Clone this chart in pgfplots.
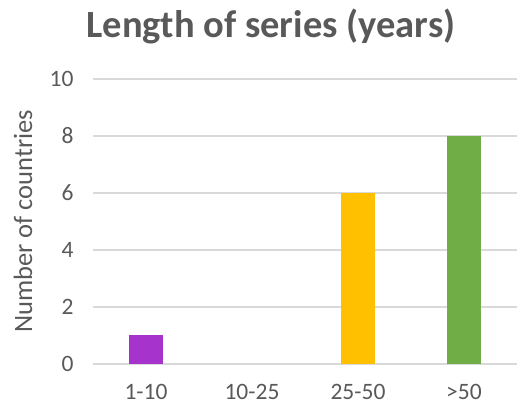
\documentclass[border=0pt]{standalone}
\usepackage{pgfplots}
\pgfplotsset{compat=1.18}
\usepackage{fontspec}
\setmainfont{Carlito}
\definecolor{txt}{HTML}{595959}
\definecolor{gridc}{HTML}{D9D9D9}
\definecolor{cpurple}{HTML}{A633CC}
\definecolor{cgold}{HTML}{FFC000}
\definecolor{cgreen}{HTML}{70AD47}
\begin{document}
\begin{tikzpicture}
\begin{axis}[
  scale only axis,
  width=424pt, height=285pt,
  xmin=-0.5, xmax=3.5,
  ymin=0, ymax=10,
  ytick={0,2,...,10},
  xtick={0,1,2,3},
  xticklabels={1-10,10-25,25-50,>50},
  ymajorgrids=true,
  grid style={gridc, line width=1.5pt},
  axis line style={draw=none},
  major tick length=0pt,
  tick label style={font=\fontsize{23.5}{28}\selectfont, text=txt},
  /pgf/number format/assume math mode=true,
  yticklabel style={xshift=-16pt},
  xticklabel style={yshift=-17pt},
  title={\textbf{Length of series (years)}},
  title style={font=\fontsize{38.5}{44}\selectfont, text=txt, at={(0.5,1)}, anchor=base, yshift=35pt, xshift=-34pt},
  ybar, bar width=34pt, bar shift=0pt,
]
\coordinate (bl) at (rel axis cs:0,0);
\coordinate (tr) at (rel axis cs:1,1);
\addplot[fill=cpurple, draw=none] coordinates {(0,1)};
\addplot[fill=cgold, draw=none] coordinates {(2,6)};
\addplot[fill=cgreen, draw=none] coordinates {(3,8)};
\end{axis}
\path (bl) ++(-70pt,142.5pt) node[rotate=90, text=txt, font=\fontsize{26.5}{32}\selectfont] {Number of countries};
\pgfresetboundingbox
\path ([shift={(-93pt,-43pt)}]bl) rectangle ([shift={(0pt,79pt)}]tr);
\end{tikzpicture}
\end{document}
